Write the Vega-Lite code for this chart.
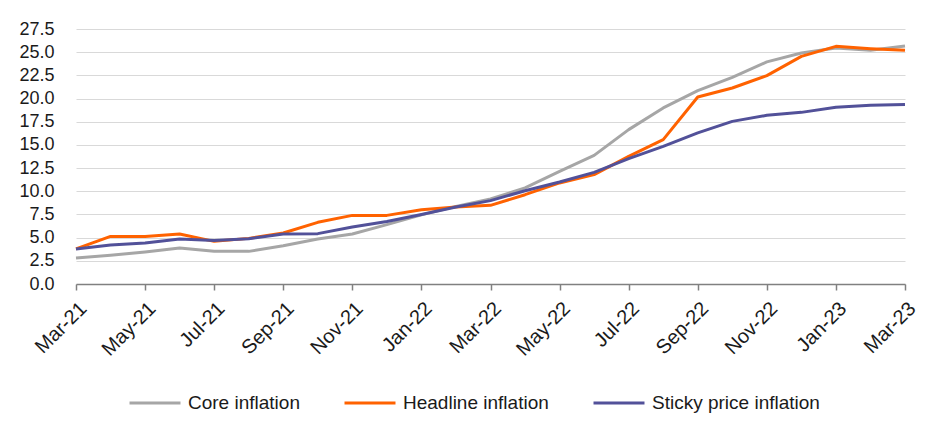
{
  "$schema": "https://vega.github.io/schema/vega-lite/v6.json",
  "width": 829,
  "height": 255,
  "autosize": {"type": "none"},
  "padding": {"left": 76, "top": 29, "right": 47, "bottom": 154},
  "background": "white",
  "config": {
    "view": {"stroke": null},
    "font": "Liberation Sans",
    "axis": {"labelFont": "Liberation Sans", "labelFontSize": 17, "labelColor": "#1a1a1a"},
    "legend": {"labelFont": "Liberation Sans", "labelFontSize": 19, "labelColor": "#1a1a1a", "labelLimit": 400}
  },
  "datasets": {
    "d": [
      {"m":"Mar-21","s":"Core inflation","v":2.8},
      {"m":"Apr-21","s":"Core inflation","v":3.1},
      {"m":"May-21","s":"Core inflation","v":3.45},
      {"m":"Jun-21","s":"Core inflation","v":3.88},
      {"m":"Jul-21","s":"Core inflation","v":3.52},
      {"m":"Aug-21","s":"Core inflation","v":3.52},
      {"m":"Sep-21","s":"Core inflation","v":4.13},
      {"m":"Oct-21","s":"Core inflation","v":4.85},
      {"m":"Nov-21","s":"Core inflation","v":5.39},
      {"m":"Dec-21","s":"Core inflation","v":6.4},
      {"m":"Jan-22","s":"Core inflation","v":7.45},
      {"m":"Feb-22","s":"Core inflation","v":8.37},
      {"m":"Mar-22","s":"Core inflation","v":9.17},
      {"m":"Apr-22","s":"Core inflation","v":10.36},
      {"m":"May-22","s":"Core inflation","v":12.15},
      {"m":"Jun-22","s":"Core inflation","v":13.87},
      {"m":"Jul-22","s":"Core inflation","v":16.65},
      {"m":"Aug-22","s":"Core inflation","v":18.99},
      {"m":"Sep-22","s":"Core inflation","v":20.85},
      {"m":"Oct-22","s":"Core inflation","v":22.29},
      {"m":"Nov-22","s":"Core inflation","v":23.95},
      {"m":"Dec-22","s":"Core inflation","v":24.92},
      {"m":"Jan-23","s":"Core inflation","v":25.46},
      {"m":"Feb-23","s":"Core inflation","v":25.2},
      {"m":"Mar-23","s":"Core inflation","v":25.67},
      {"m":"Mar-21","s":"Headline inflation","v":3.78},
      {"m":"Apr-21","s":"Headline inflation","v":5.13},
      {"m":"May-21","s":"Headline inflation","v":5.13},
      {"m":"Jun-21","s":"Headline inflation","v":5.39},
      {"m":"Jul-21","s":"Headline inflation","v":4.6},
      {"m":"Aug-21","s":"Headline inflation","v":4.92},
      {"m":"Sep-21","s":"Headline inflation","v":5.5},
      {"m":"Oct-21","s":"Headline inflation","v":6.65},
      {"m":"Nov-21","s":"Headline inflation","v":7.4},
      {"m":"Dec-21","s":"Headline inflation","v":7.4},
      {"m":"Jan-22","s":"Headline inflation","v":8.0},
      {"m":"Feb-22","s":"Headline inflation","v":8.3},
      {"m":"Mar-22","s":"Headline inflation","v":8.48},
      {"m":"Apr-22","s":"Headline inflation","v":9.63},
      {"m":"May-22","s":"Headline inflation","v":10.9},
      {"m":"Jun-22","s":"Headline inflation","v":11.8},
      {"m":"Jul-22","s":"Headline inflation","v":13.77},
      {"m":"Aug-22","s":"Headline inflation","v":15.57},
      {"m":"Sep-22","s":"Headline inflation","v":20.17},
      {"m":"Oct-22","s":"Headline inflation","v":21.14},
      {"m":"Nov-22","s":"Headline inflation","v":22.47},
      {"m":"Dec-22","s":"Headline inflation","v":24.55},
      {"m":"Jan-23","s":"Headline inflation","v":25.63},
      {"m":"Feb-23","s":"Headline inflation","v":25.38},
      {"m":"Mar-23","s":"Headline inflation","v":25.2},
      {"m":"Mar-21","s":"Sticky price inflation","v":3.78},
      {"m":"Apr-21","s":"Sticky price inflation","v":4.2},
      {"m":"May-21","s":"Sticky price inflation","v":4.42},
      {"m":"Jun-21","s":"Sticky price inflation","v":4.85},
      {"m":"Jul-21","s":"Sticky price inflation","v":4.7},
      {"m":"Aug-21","s":"Sticky price inflation","v":4.89},
      {"m":"Sep-21","s":"Sticky price inflation","v":5.39},
      {"m":"Oct-21","s":"Sticky price inflation","v":5.43},
      {"m":"Nov-21","s":"Sticky price inflation","v":6.15},
      {"m":"Dec-21","s":"Sticky price inflation","v":6.75},
      {"m":"Jan-22","s":"Sticky price inflation","v":7.5},
      {"m":"Feb-22","s":"Sticky price inflation","v":8.3},
      {"m":"Mar-22","s":"Sticky price inflation","v":8.99},
      {"m":"Apr-22","s":"Sticky price inflation","v":10.06},
      {"m":"May-22","s":"Sticky price inflation","v":11.0},
      {"m":"Jun-22","s":"Sticky price inflation","v":12.04},
      {"m":"Jul-22","s":"Sticky price inflation","v":13.52},
      {"m":"Aug-22","s":"Sticky price inflation","v":14.84},
      {"m":"Sep-22","s":"Sticky price inflation","v":16.29},
      {"m":"Oct-22","s":"Sticky price inflation","v":17.54},
      {"m":"Nov-22","s":"Sticky price inflation","v":18.19},
      {"m":"Dec-22","s":"Sticky price inflation","v":18.51},
      {"m":"Jan-23","s":"Sticky price inflation","v":19.05},
      {"m":"Feb-23","s":"Sticky price inflation","v":19.27},
      {"m":"Mar-23","s":"Sticky price inflation","v":19.37}
    ]
  },
  "data": {"name": "d"},
  "mark": {"type": "line", "strokeWidth": 3, "strokeJoin": "round"},
  "encoding": {
    "x": {
      "field": "m",
      "type": "ordinal",
      "sort": null,
      "scale": {"type": "point", "padding": 0},
      "axis": {
        "title": null,
        "values": ["Mar-21","May-21","Jul-21","Sep-21","Nov-21","Jan-22","Mar-22","May-22","Jul-22","Sep-22","Nov-22","Jan-23","Mar-23"],
        "labelAngle": -45,
        "labelAlign": "right",
        "labelBaseline": "top",
        "labelPadding": 8,
        "labelFontSize": 20,
        "domainColor": "#808080",
        "domainWidth": 1.5,
        "tickColor": "#808080",
        "tickWidth": 1.5,
        "tickSize": 6,
        "grid": false
      }
    },
    "y": {
      "field": "v",
      "type": "quantitative",
      "scale": {"domain": [0, 27.5], "nice": false},
      "axis": {
        "title": null,
        "values": [0, 2.5, 5, 7.5, 10, 12.5, 15, 17.5, 20, 22.5, 25, 27.5],
        "format": ".1f",
        "domain": false,
        "ticks": false,
        "labelPadding": 22,
        "labelFontSize": 18,
        "grid": true,
        "gridColor": "#d9d9d9",
        "gridWidth": 1
      }
    },
    "color": {
      "field": "s",
      "type": "nominal",
      "scale": {
        "domain": ["Core inflation", "Headline inflation", "Sticky price inflation"],
        "range": ["#a6a6a6", "#ff6200", "#525199"]
      },
      "legend": {
        "title": null,
        "orient": "none",
        "direction": "horizontal",
        "legendX": 52,
        "legendY": 347,
        "symbolType": "stroke",
        "symbolSize": 2600,
        "symbolStrokeWidth": 3,
        "labelOffset": 6,
        "labelLimit": 400,
        "columnPadding": 38
      }
    }
  }
}
